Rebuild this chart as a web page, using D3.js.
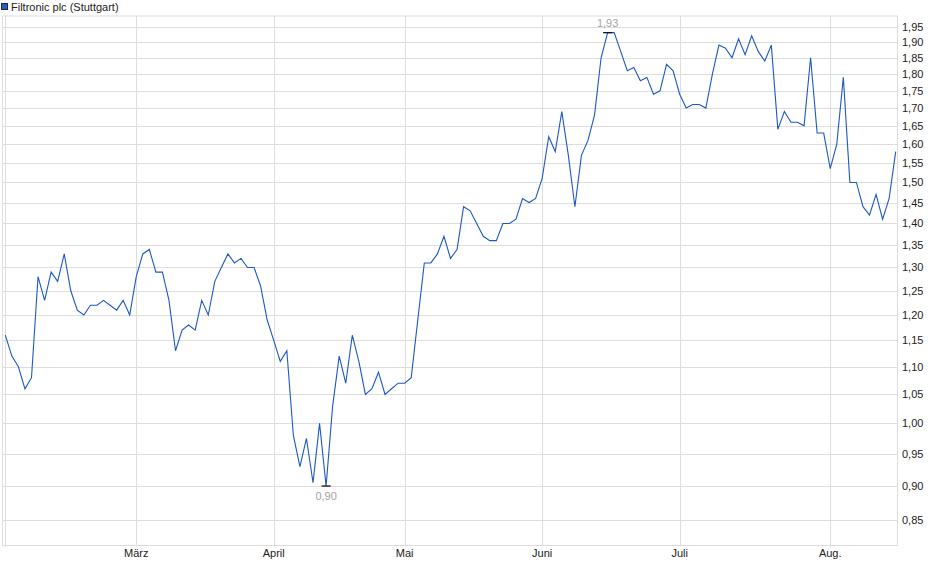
<!DOCTYPE html>
<html>
<head>
<meta charset="utf-8">
<script src="https://cdn.jsdelivr.net/npm/d3@7"></script>
<style>
  body { margin: 0; background: #fff; }
  svg text { font-family: Arial, "Liberation Sans", sans-serif; }
</style>
</head>
<body>
<svg id="chart"></svg>
<script>
// daily closing prices (trading days, Feb - mid Aug)
const prices = [
  1.16, 1.12, 1.10, 1.06, 1.08, 1.28, 1.23, 1.29, 1.27, 1.33,
  1.25, 1.21, 1.20, 1.22, 1.22, 1.23, 1.22, 1.21, 1.23, 1.20,
  1.28, 1.33, 1.34, 1.29, 1.29, 1.23, 1.13, 1.17, 1.18, 1.17,
  1.23, 1.20, 1.27, 1.30, 1.33, 1.31, 1.32, 1.30, 1.30, 1.26,
  1.19, 1.15, 1.11, 1.13, 0.98, 0.93, 0.975, 0.905, 1.00, 0.90,
  1.03, 1.12, 1.07, 1.16, 1.11, 1.05, 1.06, 1.09, 1.05, 1.06,
  1.07, 1.07, 1.08, 1.19, 1.31, 1.31, 1.33, 1.37, 1.32, 1.34,
  1.44, 1.43, 1.40, 1.37, 1.36, 1.36, 1.40, 1.40, 1.41, 1.46,
  1.45, 1.46, 1.51, 1.62, 1.58, 1.69, 1.57, 1.44, 1.57, 1.61,
  1.68, 1.85, 1.93, 1.93, 1.87, 1.81, 1.82, 1.78, 1.79, 1.74,
  1.75, 1.83, 1.81, 1.74, 1.70, 1.71, 1.71, 1.70, 1.80, 1.89,
  1.88, 1.85, 1.91, 1.86, 1.92, 1.87, 1.84, 1.89, 1.64, 1.69,
  1.66, 1.66, 1.65, 1.85, 1.63, 1.63, 1.535, 1.60, 1.79, 1.50,
  1.50, 1.44, 1.42, 1.47, 1.41, 1.46, 1.58
]

// first trading day of each month (index into prices)
const monthStart = [0, 20, 41, 61, 82, 103, 126]
const monthLabels = ["", "März", "April", "Mai", "Juni", "Juli", "Aug."]

const yTicks = [0.85, 0.90, 0.95, 1.00, 1.05, 1.10, 1.15, 1.20, 1.25, 1.30,
  1.35, 1.40, 1.45, 1.50, 1.55, 1.60, 1.65, 1.70, 1.75, 1.80, 1.85, 1.90, 1.95]

const seriesName = "Filtronic plc (Stuttgart)"

function drawChart() {
  const svgWidth = 940
  const svgHeight = 579
  const plot = ({left: 2.5, right: 897.5, top: 16, bottom: 545.5})

  const svg = d3.select("#chart")
    .attr("width", svgWidth)
    .attr("height", svgHeight)

  const xScale = d3.scaleLinear()
    .domain([0, prices.length - 1])
    .range([5.3, 895.7])

  const yScale = d3.scaleLog()
    .domain([0.8143, 1.9848])
    .range([plot.bottom, plot.top])

  const fmt = v => d3.format(".2f")(v).replace(".", ",")

  // horizontal grid
  svg.append("g")
    .selectAll("line")
    .data(yTicks)
    .join("line")
    .attr("x1", plot.left)
    .attr("x2", plot.right)
    .attr("y1", d => Math.round(yScale(d)) + 0.5)
    .attr("y2", d => Math.round(yScale(d)) + 0.5)
    .attr("stroke", "#dddddd")

  // vertical month grid
  svg.append("g")
    .selectAll("line")
    .data(monthStart)
    .join("line")
    .attr("x1", d => Math.round(xScale(d)) + 0.5)
    .attr("x2", d => Math.round(xScale(d)) + 0.5)
    .attr("y1", plot.top)
    .attr("y2", plot.bottom + 1)
    .attr("stroke", "#dddddd")

  // frame
  svg.append("rect")
    .attr("x", plot.left)
    .attr("y", plot.top)
    .attr("width", plot.right - plot.left)
    .attr("height", plot.bottom - plot.top)
    .attr("fill", "none")
    .attr("stroke", "#dddddd")

  // right y labels
  svg.append("g")
    .selectAll("text")
    .data(yTicks)
    .join("text")
    .attr("x", 902)
    .attr("y", d => yScale(d) + 4)
    .attr("font-size", "11px")
    .attr("fill", "#222")
    .text(d => fmt(d))

  // month labels
  svg.append("g")
    .selectAll("text")
    .data(monthStart)
    .join("text")
    .attr("x", d => xScale(d))
    .attr("y", 557)
    .attr("text-anchor", "middle")
    .attr("font-size", "11px")
    .attr("fill", "#222")
    .text((d, i) => monthLabels[i])

  // price line
  const line = d3.line()
    .x((d, i) => xScale(i))
    .y(d => yScale(d))

  svg.append("path")
    .datum(prices)
    .attr("d", line)
    .attr("fill", "none")
    .attr("stroke", "#1c58c4")
    .attr("stroke-width", 1.1)

  // high / low markers
  const maxIdx = d3.maxIndex(prices)
  const minIdx = d3.minIndex(prices)
  const marks = [
    {i: maxIdx, v: prices[maxIdx], dy: -6},
    {i: minIdx, v: prices[minIdx], dy: 14}
  ]

  svg.append("g")
    .selectAll("line")
    .data(marks)
    .join("line")
    .attr("x1", d => xScale(d.i) - 4.5)
    .attr("x2", d => xScale(d.i) + 4.5)
    .attr("y1", d => yScale(d.v))
    .attr("y2", d => yScale(d.v))
    .attr("stroke", "#111")
    .attr("stroke-width", 1.3)

  svg.append("g")
    .selectAll("text")
    .data(marks)
    .join("text")
    .attr("x", d => xScale(d.i))
    .attr("y", d => yScale(d.v) + d.dy)
    .attr("text-anchor", "middle")
    .attr("font-size", "11px")
    .attr("fill", "#a3a3a3")
    .text(d => fmt(d.v))

  // legend
  svg.append("rect")
    .attr("x", 1.5)
    .attr("y", 3.5)
    .attr("width", 6)
    .attr("height", 6)
    .attr("fill", "#2a5cc0")
    .attr("stroke", "#1b2a4a")

  svg.append("text")
    .attr("x", 11)
    .attr("y", 11)
    .attr("font-size", "11px")
    .attr("fill", "#222")
    .text(seriesName)
}

drawChart()
</script>
</body>
</html>
